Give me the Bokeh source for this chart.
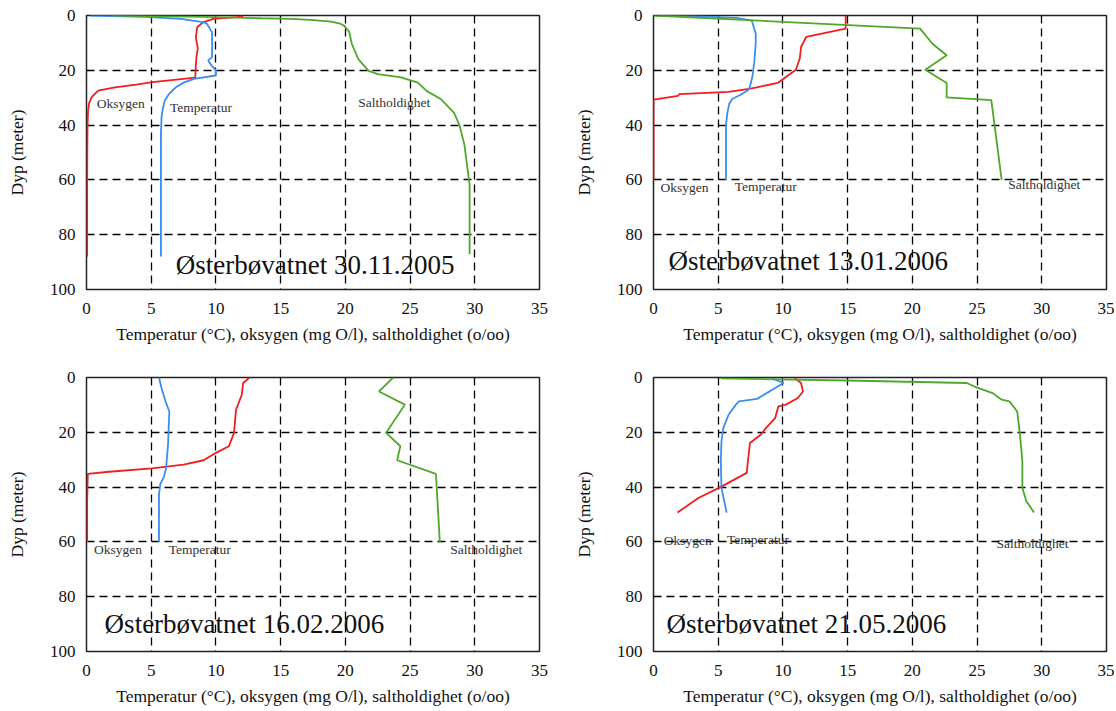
from bokeh.plotting import figure
from bokeh.layouts import column, row
from bokeh.models import Range1d, FixedTicker, ColumnDataSource
from bokeh.core.properties import value
from bokeh.embed import file_html
from bokeh.resources import INLINE

# ---------------- data ----------------
x_ticks = [0, 5, 10, 15, 20, 25, 30, 35]
y_ticks = [0, 20, 40, 60, 80, 100]
x_label = "Temperatur (°C), oksygen (mg O/l), saltholdighet (o/oo)"
y_label = "Dyp (meter)"
series_names = ["Oksygen", "Temperatur", "Saltholdighet"]
titles = ["Østerbøvatnet 30.11.2005", "Østerbøvatnet 13.01.2006",
          "Østerbøvatnet 16.02.2006", "Østerbøvatnet 21.05.2006"]

# Panel 1: 30.11.2005
p1_oxy_depth = [0.2, 0.6, 1.2, 2.5, 4.3, 8, 12, 15, 18, 22.7, 24.3, 25.2, 26.2, 27.4, 29.8, 32.0, 34.7, 40, 50, 60, 75, 88]
p1_oxy_val = [12.1, 11.6, 9.8, 9.0, 8.55, 8.45, 8.6, 8.5, 8.45, 8.4, 5.1, 3.85, 2.2, 0.9, 0.4, 0.2, 0.12, 0.08, 0.06, 0.05, 0.05, 0.05]
p1_tmp_depth = [0.0, 0.5, 1.2, 2.5, 3.0, 6.1, 9, 12, 15.2, 16.4, 18.5, 20.0, 21.9, 23.1, 24.5, 26.2, 28.5, 31, 34, 37, 43, 60, 88]
p1_tmp_val = [0.3, 4.5, 7.3, 9.1, 9.3, 9.7, 9.7, 9.7, 9.7, 9.4, 9.7, 10.0, 10.0, 8.3, 7.5, 6.9, 6.4, 6.05, 5.9, 5.8, 5.75, 5.75, 5.75]
p1_sal_depth = [0.0, 0.5, 1.0, 1.2, 1.6, 2.2, 3.0, 3.7, 6.0, 10.4, 15.9, 20.2, 21.4, 22.6, 24.5, 27.6, 30.6, 35.5, 39.8, 47.2, 54.5, 61.9, 71.7, 87.0]
p1_sal_val = [2.0, 9.0, 13.5, 15.8, 17.3, 18.9, 19.6, 19.9, 20.3, 20.5, 21.0, 21.8, 22.5, 24.3, 25.6, 26.3, 27.4, 28.4, 28.8, 29.2, 29.4, 29.6, 29.6, 29.6]

# Panel 2: 13.01.2006
p2_oxy_depth = [0, 4.8, 7.8, 11.5, 15.8, 19.8, 24.6, 26.7, 27.9, 28.7, 29.3, 30.7, 40, 50, 60]
p2_oxy_val = [14.85, 14.85, 11.8, 11.4, 11.3, 11.0, 9.6, 7.5, 5.8, 2.0, 1.9, 0.0, 0.0, 0.0, 0.0]
p2_tmp_depth = [0, 0.3, 0.9, 1.9, 6.7, 10, 16.4, 22, 26.0, 27.3, 29.0, 30.4, 32.2, 35.8, 40.0, 50, 60]
p2_tmp_val = [0.5, 3.5, 6.4, 7.6, 7.9, 7.9, 7.8, 7.65, 7.45, 7.3, 6.7, 6.1, 5.85, 5.7, 5.6, 5.6, 5.6]
p2_sal_depth = [0, 4.8, 10.3, 14.5, 19.8, 24.6, 29.9, 30.9, 60]
p2_sal_val = [0.0, 20.6, 21.55, 22.65, 21.0, 22.65, 22.65, 26.1, 26.9]

# Panel 3: 16.02.2006
p3_oxy_depth = [0, 2, 6.3, 11.8, 20.2, 25.1, 27.5, 30.2, 31.8, 33.2, 34.4, 35.2, 45, 60]
p3_oxy_val = [12.6, 12.1, 12.0, 11.55, 11.4, 11.0, 10.0, 9.05, 7.5, 5.05, 1.75, 0.1, 0.05, 0.05]
p3_tmp_depth = [0, 3.9, 8.7, 12.4, 24.5, 33, 36, 39, 42.7, 60]
p3_tmp_val = [5.6, 5.8, 6.1, 6.4, 6.3, 6.15, 6.0, 5.7, 5.6, 5.6]
p3_sal_depth = [0, 5.1, 9.9, 20.2, 25.1, 30.2, 35.2, 60.2]
p3_sal_val = [23.7, 22.6, 24.6, 23.15, 24.25, 24.0, 27.0, 27.3]

# Panel 4: 21.05.2006
p4_oxy_depth = [0.2, 2.0, 5.1, 7.5, 10.0, 10.5, 14.8, 18.4, 20.8, 23.9, 34.8, 40.2, 43.9, 49.3]
p4_oxy_val = [10.9, 11.4, 11.55, 11.15, 10.2, 9.65, 9.4, 8.7, 8.3, 7.45, 7.2, 5.1, 3.5, 1.85]
p4_tmp_depth = [0.2, 2.0, 7.8, 8.7, 10.0, 13.6, 18.4, 23.3, 30.5, 40.2, 49.3]
p4_tmp_val = [9.1, 10.05, 8.0, 6.6, 6.35, 5.8, 5.4, 5.25, 5.2, 5.25, 5.65]
p4_sal_depth = [0.3, 1.1, 2.0, 3.3, 5.7, 8.1, 8.7, 12.4, 20.2, 30.5, 40.2, 45.1, 49.3]
p4_sal_val = [5.2, 15.0, 24.2, 24.8, 26.2, 26.9, 27.5, 28.1, 28.3, 28.5, 28.5, 28.8, 29.4]

# ---------------- styling ----------------
FONT = "Liberation Serif"
C_OXY = "#f01e1e"
C_TMP = "#3a8ef0"
C_SAL = "#4ea82a"


def make_panel(title, oxy, tmp, sal, label_pos, title_pos, width, height, border_right, border_bottom):
    p = figure(width=width, height=height, output_backend="svg", toolbar_location=None,
               x_range=Range1d(0, 35), y_range=Range1d(100, 0),
               min_border_left=86, min_border_right=border_right,
               min_border_top=15, min_border_bottom=border_bottom)
    p.background_fill_color = "white"
    p.border_fill_color = "white"
    p.outline_line_color = "#222222"
    p.outline_line_width = 1.5

    p.xaxis.ticker = FixedTicker(ticks=x_ticks)
    p.yaxis.ticker = FixedTicker(ticks=y_ticks)
    for ax in (p.xaxis[0], p.yaxis[0]):
        ax.axis_line_color = None
        ax.major_tick_line_color = None
        ax.minor_tick_line_color = None
        ax.major_tick_out = 0
        ax.major_tick_in = 0
        ax.major_label_text_font = FONT
        ax.major_label_text_font_size = "17px"
        ax.major_label_text_color = "#111111"
        ax.axis_label_text_font = FONT
        ax.axis_label_text_font_size = "17.5px"
        ax.axis_label_text_font_style = "normal"
        ax.axis_label_text_color = "#111111"
    p.xaxis.axis_label = x_label
    p.yaxis.axis_label = y_label
    p.xaxis.major_label_standoff = 13
    p.xaxis.axis_label_standoff = 7
    p.yaxis.major_label_standoff = 11
    p.yaxis.axis_label_standoff = 20

    for g in (p.xgrid[0], p.ygrid[0]):
        g.grid_line_color = "black"
        g.grid_line_dash = "8 5"
        g.grid_line_width = 1.3

    p.line(oxy[0], oxy[1], line_color=C_OXY, line_width=1.8)
    p.line(tmp[0], tmp[1], line_color=C_TMP, line_width=1.8)
    p.line(sal[0], sal[1], line_color=C_SAL, line_width=1.8)

    src = ColumnDataSource(dict(x=[q[0] for q in label_pos], y=[q[1] for q in label_pos], t=series_names))
    p.text(x="x", y="y", text="t", source=src, text_font=value(FONT), text_font_size="13.5px",
           text_color="#333333", text_align="left", text_baseline="middle")
    p.text(x=[title_pos[0]], y=[title_pos[1]], text=[title], text_font=value(FONT),
           text_font_size="27px", text_color="#111111", text_align="left", text_baseline="middle")
    return p


p1 = make_panel(titles[0], (p1_oxy_val, p1_oxy_depth), (p1_tmp_val, p1_tmp_depth), (p1_sal_val, p1_sal_depth),
                [(0.8, 32.0), (6.45, 33.5), (21.0, 31.6)], (6.9, 91.2), 567, 362, 28, 73)
p2 = make_panel(titles[1], (p2_oxy_val, p2_oxy_depth), (p2_tmp_val, p2_tmp_depth), (p2_sal_val, p2_sal_depth),
                [(0.55, 62.8), (6.27, 62.4), (27.4, 61.8)], (1.15, 89.7), 547, 362, 8, 73)
p3 = make_panel(titles[2], (p3_oxy_val, p3_oxy_depth), (p3_tmp_val, p3_tmp_depth), (p3_sal_val, p3_sal_depth),
                [(0.58, 62.7), (6.35, 62.7), (28.1, 62.7)], (1.4, 90.0), 567, 347, 28, 58)
p4 = make_panel(titles[3], (p4_oxy_val, p4_oxy_depth), (p4_tmp_val, p4_tmp_depth), (p4_sal_val, p4_sal_depth),
                [(0.8, 59.6), (5.67, 59.3), (26.5, 60.6)], (1.0, 90.0), 547, 347, 8, 58)

layout = column(row(p1, p2), row(p3, p4))
open("out.html", "w").write(file_html(layout, INLINE))
